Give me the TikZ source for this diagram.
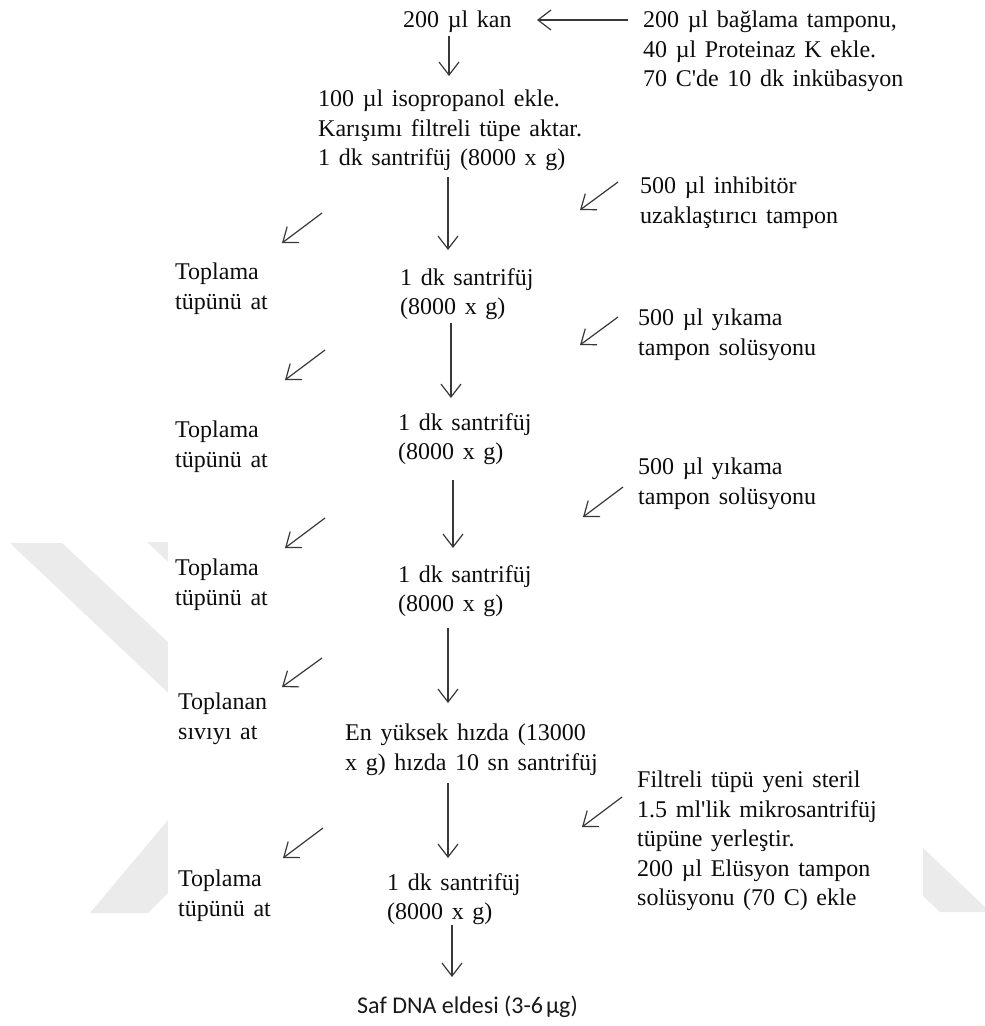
\documentclass[tikz,border=0pt]{standalone}
\usepackage{fontspec}
\setmainfont{Liberation Serif}[Ligatures=TeXOff]
\newfontfamily\carl{Carlito}
\usetikzlibrary{arrows.meta}
\newcommand\txtfont{\fontsize{24}{29.5}\selectfont\setlength{\spaceskip}{0.36em}}
\begin{document}
\begin{tikzpicture}[x=1pt,y=-1pt,
  txt/.style={anchor=north west, inner sep=0pt, align=left, text=black!95,
    font=\txtfont},
  arr/.style={draw=black!78, line width=1.2pt,
    -{Straight Barb[length=13pt,width=20pt,line width=1.2pt]}},
  wm/.style={fill=black!8}]
\useasboundingbox (0,0) rectangle (985,1026);
\fill[white] (0,0) rectangle (985,1026);
% faint watermark
\fill[wm] (10,543) -- (62,543) -- (200,672) -- (200,723) -- cycle;
\fill[wm] (147,542) -- (200,542) -- (200,592) -- cycle;
\fill[wm] (90,913) -- (148,913) -- (200,861) -- (200,782) -- cycle;
\fill[wm] (880,807) -- (985,907) -- (985,912) -- (940,912) -- (880,855) -- cycle;
\fill[white] (168,0) rectangle (923,1026);

% text nodes
\node[txt] (kan) at (403,11) {200 µl kan};
\node[txt] (r1) at (643,11) {200 µl bağlama tamponu,\\40 µl Proteinaz K ekle.\\70 C'de 10 dk inkübasyon};
\node[txt] (iso) at (318,90) {100 µl isopropanol ekle.\\Karışımı filtreli tüpe aktar.\\1 dk santrifüj (8000 x g)};
\node[txt] (r2) at (640,177) {500 µl inhibitör\\uzaklaştırıcı tampon};
\node[txt] (L1) at (175,263) {Toplama\\tüpünü at};
\node[txt] (s1) at (400,268) {1 dk santrifüj\\(8000 x g)};
\node[txt] (r3) at (638,309) {500 µl yıkama\\tampon solüsyonu};
\node[txt] (L2) at (175,421) {Toplama\\tüpünü at};
\node[txt] (s2) at (398,413) {1 dk santrifüj\\(8000 x g)};
\node[txt] (r4) at (638,458) {500 µl yıkama\\tampon solüsyonu};
\node[txt] (L3) at (175,559) {Toplama\\tüpünü at};
\node[txt] (s3) at (398,565) {1 dk santrifüj\\(8000 x g)};
\node[txt] (L4) at (178,693) {Toplanan\\sıvıyı at};
\node[txt] (s4) at (345,724) {En yüksek hızda (13000\\x g) hızda 10 sn santrifüj};
\node[txt] (r5) at (637,771) {Filtreli tüpü yeni steril\\1.5 ml'lik mikrosantrifüj\\tüpüne yerleştir.\\200 µl Elüsyon tampon\\solüsyonu (70 C) ekle};
\node[txt] (L5) at (178,870) {Toplama\\tüpünü at};
\node[txt] (s5) at (387,873) {1 dk santrifüj\\(8000 x g)};
\node[anchor=base west, inner sep=0pt, text=black!90, font=\carl\fontsize{24}{28}\selectfont] (fin) at (357,1013) {Saf DNA eldesi (3-6\hspace{0.12em}µg)};

% arrow end points
\coordinate (h0a) at (628,20);  \coordinate (h0b) at (537,20);
\coordinate (d0a) at (449,36);  \coordinate (d0b) at (449,76);
\coordinate (d1a) at (448,177); \coordinate (d1b) at (448,250);
\coordinate (d2a) at (451,323); \coordinate (d2b) at (451,398);
\coordinate (d3a) at (453,480); \coordinate (d3b) at (453,548);
\coordinate (d4a) at (448,628); \coordinate (d4b) at (448,703);
\coordinate (d5a) at (448,783); \coordinate (d5b) at (448,858);
\coordinate (d6a) at (452,925); \coordinate (d6b) at (452,977);
\coordinate (ra2) at (618,182); \coordinate (rb2) at (580,210);
\coordinate (ra3) at (618,317); \coordinate (rb3) at (580,345);
\coordinate (ra4) at (623,487); \coordinate (rb4) at (583,517);
\coordinate (ra5) at (622,797); \coordinate (rb5) at (582,827);
\coordinate (la1) at (322,213); \coordinate (lb1) at (282,243);
\coordinate (la2) at (325,350); \coordinate (lb2) at (285,380);
\coordinate (la3) at (325,518); \coordinate (lb3) at (285,548);
\coordinate (la4) at (322,658); \coordinate (lb4) at (282,687);
\coordinate (la5) at (323,828); \coordinate (lb5) at (283,858);

\draw[arr] (h0a) -- (h0b);
\foreach \i in {0,...,6} { \draw[arr] (d\i a) -- (d\i b); }
\foreach \i in {2,...,5} { \draw[arr] (ra\i) -- (rb\i); }
\foreach \i in {1,...,5} { \draw[arr] (la\i) -- (lb\i); }
\end{tikzpicture}
\end{document}
